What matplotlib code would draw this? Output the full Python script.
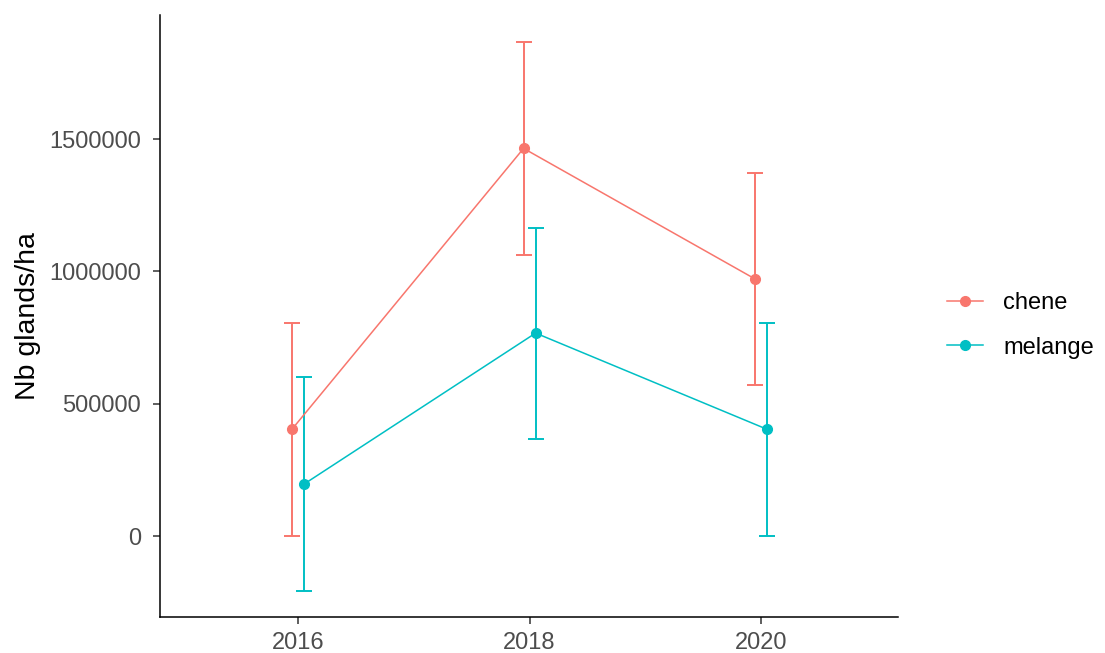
import matplotlib.pyplot as plt
import numpy as np

# Acorn counts per hectare, mean +/- error, by stand type
years = [2016, 2018, 2020]
groups = ['chene', 'melange']
means = {
    'chene':   [403000, 1465000, 971000],
    'melange': [196000, 767000, 403000],
}
errors = {
    'chene':   [403000, 402000, 402000],
    'melange': [404000, 399000, 403000],
}
colors = {'chene': '#F8766D', 'melange': '#00BFC4'}
dodge = {'chene': -0.052, 'melange': 0.052}

plt.rcParams['font.family'] = ['Liberation Sans', 'DejaVu Sans']

fig = plt.figure(figsize=(11.05, 6.53), dpi=100)
ax = fig.add_axes([0.1448, 0.0551, 0.8127 - 0.1448, 0.977 - 0.0551])

handles = []
for g in groups:
    x = np.array(years) + dodge[g]
    ax.errorbar(x, means[g], yerr=errors[g], fmt='none', ecolor=colors[g],
                elinewidth=1.4, capsize=5.5, capthick=1.4, zorder=2)
    h, = ax.plot(x, means[g], color=colors[g], lw=1.1, marker='o',
                 markersize=7, zorder=3, label=g)
    handles.append(h)

ax.set_xlim(2014.81, 2021.18)
ax.set_ylim(-306000, 1969000)
ax.set_xticks(years)
ax.set_yticks([0, 500000, 1000000, 1500000])
ax.set_yticklabels(['0', '500000', '1000000', '1500000'])

for side in ['top', 'right']:
    ax.spines[side].set_visible(False)
for side in ['left', 'bottom']:
    ax.spines[side].set_linewidth(1.1)
    ax.spines[side].set_color('black')

ax.tick_params(axis='both', length=5, width=1.1, color='#333333',
               labelsize=17, labelcolor='#4D4D4D')
ax.tick_params(axis='y', pad=8.5)
ax.tick_params(axis='x', pad=5.5)
ax.set_ylabel('Nb glands/ha', fontsize=20.5, color='black', labelpad=6)

fig.legend(handles=handles, loc='center left', bbox_to_anchor=(0.857, 0.5015),
           frameon=False, fontsize=17, handlelength=1.53, handletextpad=0.85,
           labelspacing=0.95, borderpad=0, borderaxespad=0)

fig.savefig('out.png', dpi=100)
